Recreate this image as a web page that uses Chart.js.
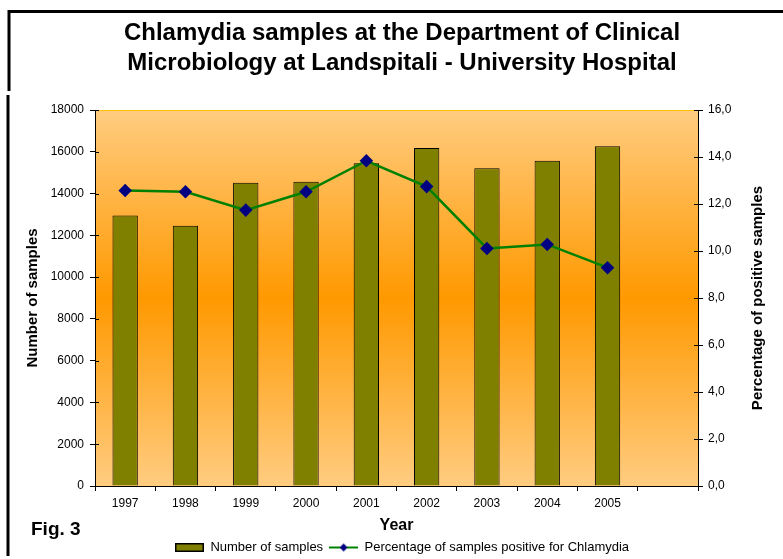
<!DOCTYPE html>
<html>
<head>
<meta charset="utf-8">
<script src="https://cdn.jsdelivr.net/npm/chart.js@4"></script>
<style>
  html, body { margin: 0; padding: 0; background: #fff; }
  #wrap { width: 783px; height: 559px; }
</style>
</head>
<body>
<div id="wrap"><canvas id="chart" width="783" height="559"></canvas></div>
<script>
// chart data
const years = ['1997', '1998', '1999', '2000', '2001', '2002', '2003', '2004', '2005', ''];
const samples = [12950, 12460, 14520, 14560, 15450, 16180, 15210, 15570, 16260, null];
const positivePct = [12.57, 12.52, 11.74, 12.52, 13.84, 12.74, 10.11, 10.28, 9.29, null];

const FONT = "'Liberation Sans', Arial, sans-serif";

// small legend icons (bar swatch, line with diamond)
function barIcon() {
  const c = document.createElement('canvas');
  c.width = 29; c.height = 9;
  const g = c.getContext('2d');
  g.fillStyle = '#808000';
  g.fillRect(0, 0, 29, 9);
  g.strokeStyle = '#000';
  g.lineWidth = 1.5;
  g.strokeRect(0.75, 0.75, 27.5, 7.5);
  return c;
}
function lineIcon() {
  const c = document.createElement('canvas');
  c.width = 29; c.height = 10;
  const g = c.getContext('2d');
  g.strokeStyle = '#008000';
  g.lineWidth = 2;
  g.beginPath(); g.moveTo(0, 5); g.lineTo(29, 5); g.stroke();
  g.fillStyle = '#000080';
  g.beginPath(); g.moveTo(14.5, 1); g.lineTo(18.5, 5); g.lineTo(14.5, 9); g.lineTo(10.5, 5); g.closePath(); g.fill();
  return c;
}

// gradient behind the plot area
const plotBackground = {
  id: 'plotBackground',
  beforeDraw(chart) {
    const { ctx, chartArea: a } = chart;
    const grad = ctx.createLinearGradient(0, a.top, 0, a.bottom);
    grad.addColorStop(0, '#FFCC80');
    grad.addColorStop(0.5, '#FF9900');
    grad.addColorStop(1, '#FFCC80');
    ctx.save();
    ctx.fillStyle = grad;
    ctx.fillRect(a.left, a.top, a.right - a.left, a.bottom - a.top);
    ctx.strokeStyle = '#FFC000';
    ctx.lineWidth = 1;
    ctx.beginPath(); ctx.moveTo(a.left, a.top + 0.5); ctx.lineTo(a.right, a.top + 0.5); ctx.stroke();
    ctx.restore();
  }
};

// frame, inner tick stubs, right axis title (reads bottom to top) and "Fig. 3" caption
const extras = {
  id: 'extras',
  afterDraw(chart) {
    const ctx = chart.ctx;
    const a = chart.chartArea;
    ctx.save();
    ctx.strokeStyle = '#000';
    ctx.lineWidth = 1;
    ctx.beginPath();
    chart.scales.y.ticks.forEach(t => {
      const py = Math.round(chart.scales.y.getPixelForValue(t.value)) + 0.5;
      ctx.moveTo(a.left, py); ctx.lineTo(a.left + 4, py);
    });
    chart.scales.y1.ticks.forEach(t => {
      const py = Math.round(chart.scales.y1.getPixelForValue(t.value)) + 0.5;
      ctx.moveTo(a.right, py); ctx.lineTo(a.right - 4, py);
    });
    ctx.stroke();

    ctx.lineWidth = 3;
    ctx.beginPath();
    ctx.moveTo(9, 91); ctx.lineTo(9, 11.5); ctx.lineTo(783, 11.5);
    ctx.moveTo(8, 95); ctx.lineTo(8, 556);
    ctx.stroke();
    ctx.fillStyle = '#000';
    ctx.font = 'bold 19px ' + FONT;
    ctx.textBaseline = 'middle';
    ctx.fillText('Fig. 3', 31, 530);

    ctx.translate(758, (a.top + a.bottom) / 2);
    ctx.rotate(-Math.PI / 2);
    ctx.textAlign = 'center';
    ctx.font = 'bold 15px ' + FONT;
    ctx.fillText('Percentage of positive samples', 0, 0);
    ctx.restore();
  }
};

new Chart(document.getElementById('chart'), {
  data: {
    labels: years,
    datasets: [
      {
        type: 'bar',
        label: 'Number of samples',
        data: samples,
        yAxisID: 'y',
        backgroundColor: '#808000',
        borderColor: '#000',
        borderWidth: 1,
        categoryPercentage: 1,
        barPercentage: 0.42,
        order: 2
      },
      {
        type: 'line',
        label: 'Percentage of samples positive for Chlamydia',
        data: positivePct,
        yAxisID: 'y1',
        borderColor: '#008000',
        borderWidth: 2.5,
        tension: 0,
        pointStyle: 'rectRot',
        pointRadius: 5,
        pointBackgroundColor: '#000080',
        pointBorderColor: '#000080',
        order: 1
      }
    ]
  },
  options: {
    responsive: false,
    animation: false,
    layout: { padding: { left: 21, right: 0, top: 0, bottom: -5 } },
    plugins: {
      title: {
        display: true,
        text: ['Chlamydia samples at the Department of Clinical', 'Microbiology at Landspitali - University Hospital'],
        color: '#000',
        font: { family: FONT, size: 24, weight: 'bold', lineHeight: 1.25 },
        padding: { top: 18, bottom: 32 }
      },
      legend: {
        position: 'bottom',
        labels: {
          color: '#000',
          font: { family: FONT, size: 13 },
          usePointStyle: true,
          pointStyleWidth: 29,
          padding: 6,
          sort: (a, b) => a.datasetIndex - b.datasetIndex,
          generateLabels(chart) {
            const base = Chart.defaults.plugins.legend.labels.generateLabels(chart);
            return base.map(item => {
              item.pointStyle = item.datasetIndex === 0 ? barIcon() : lineIcon();
              return item;
            });
          }
        }
      },
      tooltip: { enabled: false }
    },
    scales: {
      x: {
        offset: true,
        grid: { offset: true, drawOnChartArea: false, color: '#000', tickLength: 5 },
        border: { color: '#000', width: 1 },
        ticks: { color: '#000', font: { family: FONT, size: 12 }, padding: 5, maxRotation: 0 },
        title: {
          display: true, text: 'Year', color: '#000',
          font: { family: FONT, size: 16, weight: 'bold' },
          padding: { top: 0, bottom: 0 }
        },
        afterFit(scale) { scale.height = 49; }
      },
      y: {
        position: 'left',
        min: 0, max: 18000,
        ticks: {
          stepSize: 2000, color: '#000', font: { family: FONT, size: 12 }, padding: 6,
          callback: v => String(v)
        },
        grid: { drawOnChartArea: false, color: '#000', tickLength: 5 },
        border: { color: '#000', width: 1 },
        title: {
          display: true, text: 'Number of samples', color: '#000',
          font: { family: FONT, size: 15, weight: 'bold' },
          padding: { top: 3, bottom: 4 }
        },
        afterFit(scale) { scale.width = 74; }
      },
      y1: {
        position: 'right',
        min: 0, max: 16,
        ticks: {
          stepSize: 2, color: '#000', font: { family: FONT, size: 12 }, padding: 5,
          callback: v => v.toFixed(1).replace('.', ',')
        },
        grid: { drawOnChartArea: false, color: '#000', tickLength: 5 },
        border: { color: '#000', width: 1 },
        afterFit(scale) { scale.width = 85; }
      }
    }
  },
  plugins: [plotBackground, extras]
});
</script>
</body>
</html>
